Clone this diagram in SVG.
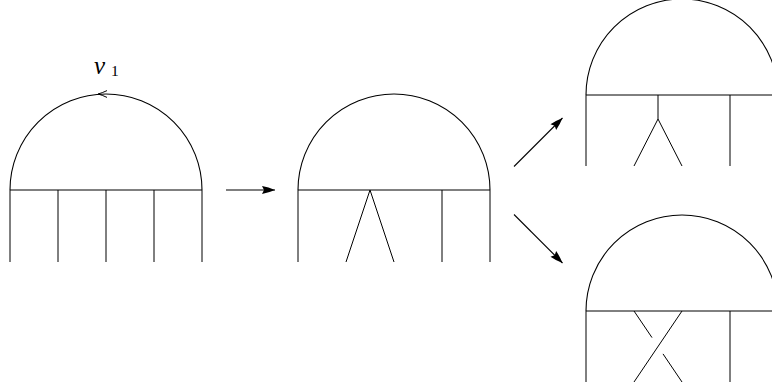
<svg xmlns="http://www.w3.org/2000/svg" width="772" height="388" viewBox="0 0 772 388">
  <style>
    .arc { fill: none; stroke: #000; stroke-width: 1.1; }
    .ln { fill: none; stroke: #000; stroke-width: 1; stroke-linecap: butt; }
    .conn { fill: none; stroke: #000; stroke-width: 1.1; }
    .lbl { font-family: "Liberation Serif", "Times New Roman", serif; fill: #000; }
  </style>
  <defs>
    <marker id="ah" markerUnits="userSpaceOnUse" markerWidth="14" markerHeight="10" viewBox="0 0 14 10" refX="13.5" refY="5" orient="auto">
      <path d="M13.5,5 Q7,2.2 0.5,1 L2.5,5 L0.5,9 Q7,7.8 13.5,5 Z" fill="#000"/>
    </marker>
  </defs>
  <rect width="772" height="388" fill="#fff"/>

  <g id="diagram1">
    <path class="arc" d="M10,190 A96,96 0 0 1 202,190"/>
    <path class="ln" d="M10,190 H202 M10,190 V262 M58,190 V262 M106,190 V262 M154,190 V262 M202,190 V262"/>
    <path class="ln" d="M107,90.6 Q102,93 98,94 Q102,95 107,97.4"/>
    <text class="lbl" x="94" y="73.5" font-size="25" font-style="italic">v</text>
    <text class="lbl" x="111" y="76" font-size="15.5">1</text>
  </g>

  <g id="diagram2">
    <path class="arc" d="M298,190 A96,96 0 0 1 490,190"/>
    <path class="ln" d="M298,190 H490 M298,190 V262 M442,190 V262 M490,190 V262 M346,262 L370,190 L394,262"/>
  </g>

  <g id="diagram3">
    <path class="arc" d="M586,95 A96,96 0 0 1 778,95"/>
    <path class="ln" d="M586,95 H778 M586,95 V166 M730,95 V166 M778,95 V166 M658,95 V119 M634,166 L658,119 L682,166"/>
  </g>

  <g id="diagram4">
    <path class="arc" d="M586,311 A96,96 0 0 1 778,311"/>
    <path class="ln" d="M586,311 H778 M586,311 V382 M730,311 V382 M778,311 V382 M682,311 L634,382 M634,311 L652,337.6 M663,353.9 L682,382"/>
  </g>

  <g id="connectors">
    <line class="conn" x1="226" y1="190" x2="275" y2="190" marker-end="url(#ah)"/>
    <line class="conn" x1="514" y1="166.5" x2="562.5" y2="118" marker-end="url(#ah)"/>
    <line class="conn" x1="514" y1="214.5" x2="562.5" y2="263" marker-end="url(#ah)"/>
  </g>
</svg>
